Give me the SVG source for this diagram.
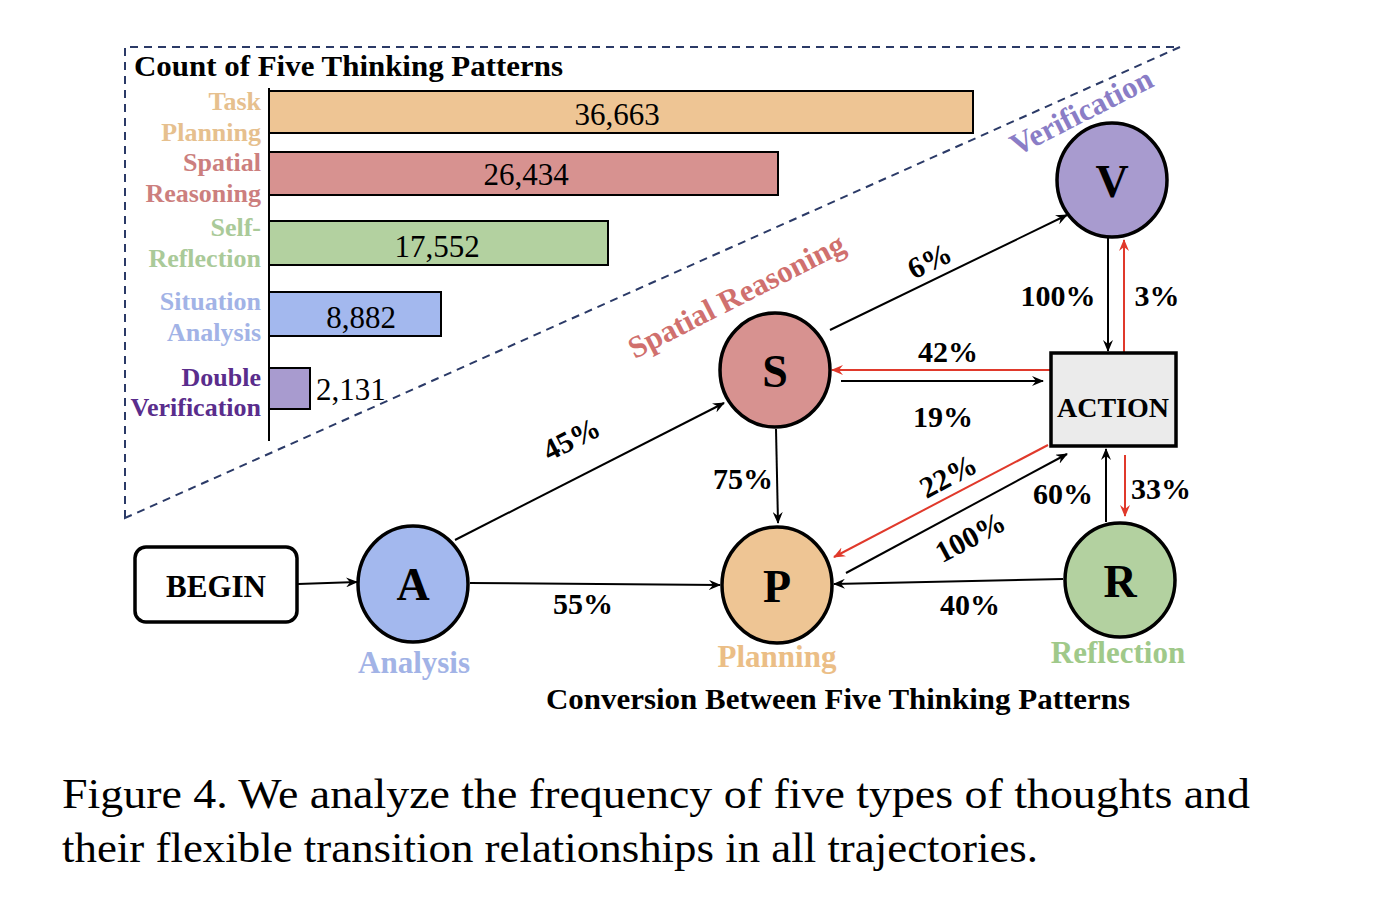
<svg xmlns="http://www.w3.org/2000/svg" width="1400" height="908" viewBox="0 0 1400 908">
<defs>
<style>
text{font-family:"Liberation Serif","Times New Roman",serif}
.b{font-weight:bold}
.lbl{font-weight:bold;font-size:26px;text-anchor:end}
.num{font-size:31px;text-anchor:middle}
.pct{font-weight:bold;font-size:30px;text-anchor:middle}
.node{stroke:#000;stroke-width:3.5}
.let{font-weight:bold;font-size:46px;text-anchor:middle}
.bar{stroke:#000;stroke-width:2}
.ck{stroke:#000;stroke-width:2;fill:none}
.cr{stroke:#E0392B;stroke-width:2;fill:none}
.nm{font-weight:bold;font-size:31px;text-anchor:middle}
</style>
<marker id="ak" viewBox="0 0 12 10" refX="11" refY="5" markerWidth="12" markerHeight="10" markerUnits="userSpaceOnUse" orient="auto"><path d="M0,0 L12,5 L0,10 L4,5 Z" fill="#000"/></marker>
<marker id="ar" viewBox="0 0 12 10" refX="11" refY="5" markerWidth="12" markerHeight="10" markerUnits="userSpaceOnUse" orient="auto"><path d="M0,0 L12,5 L0,10 L4,5 Z" fill="#E0392B"/></marker>
</defs>
<rect width="1400" height="908" fill="#fff"/>

<g id="frame">
<path d="M125,518 L125,47 L1180,47 Z" fill="none" stroke="#2B3A67" stroke-width="2" stroke-dasharray="8,6"/>
</g>

<g id="chart">
<text x="134" y="76" class="b" font-size="29" textLength="429" lengthAdjust="spacingAndGlyphs">Count of Five Thinking Patterns</text>
<line x1="269" y1="88" x2="269" y2="441" stroke="#000" stroke-width="2"/>
<rect class="bar" x="269" y="91" width="704" height="42" fill="#EEC594"/>
<rect class="bar" x="269" y="152" width="509" height="43" fill="#D79290"/>
<rect class="bar" x="269" y="221" width="339" height="44" fill="#B3D1A0"/>
<rect class="bar" x="269" y="292" width="172" height="44" fill="#A3B8EE"/>
<rect class="bar" x="269" y="368" width="41" height="41" fill="#A89BCF"/>
<text class="num" x="617" y="125">36,663</text>
<text class="num" x="526" y="185">26,434</text>
<text class="num" x="437" y="257">17,552</text>
<text class="num" x="361" y="328">8,882</text>
<text x="316" y="400" font-size="31">2,131</text>
<g fill="#E6C08E"><text class="lbl" x="261" y="110">Task</text><text class="lbl" x="261" y="141">Planning</text></g>
<g fill="#CC7F7E"><text class="lbl" x="261" y="171">Spatial</text><text class="lbl" x="261" y="202">Reasoning</text></g>
<g fill="#AACA99"><text class="lbl" x="261" y="236">Self-</text><text class="lbl" x="261" y="267">Reflection</text></g>
<g fill="#A2B3E6"><text class="lbl" x="261" y="310">Situation</text><text class="lbl" x="261" y="341">Analysis</text></g>
<g fill="#5A2D8C"><text class="lbl" x="261" y="386">Double</text><text class="lbl" x="261" y="416">Verification</text></g>
</g>

<g id="connectors">
<line class="ck" x1="298" y1="584" x2="357" y2="582" marker-end="url(#ak)"/>
<line class="ck" x1="470" y1="583" x2="720" y2="585" marker-end="url(#ak)"/>
<line class="ck" x1="455" y1="540" x2="724" y2="403" marker-end="url(#ak)"/>
<line class="ck" x1="830" y1="330" x2="1067" y2="215" marker-end="url(#ak)"/>
<line class="ck" x1="1108" y1="238" x2="1108" y2="351" marker-end="url(#ak)"/>
<line class="cr" x1="1124" y1="352" x2="1124" y2="240" marker-end="url(#ar)"/>
<line class="cr" x1="1050" y1="370" x2="832" y2="370" marker-end="url(#ar)"/>
<line class="ck" x1="841" y1="381" x2="1043" y2="381" marker-end="url(#ak)"/>
<line class="ck" x1="776" y1="429" x2="778" y2="523" marker-end="url(#ak)"/>
<line class="cr" x1="1048" y1="445" x2="834" y2="557" marker-end="url(#ar)"/>
<line class="ck" x1="846" y1="573" x2="1067" y2="454" marker-end="url(#ak)"/>
<line class="ck" x1="1106" y1="522" x2="1106" y2="449" marker-end="url(#ak)"/>
<line class="cr" x1="1125" y1="455" x2="1125" y2="516" marker-end="url(#ar)"/>
<line class="ck" x1="1063" y1="579" x2="834" y2="584" marker-end="url(#ak)"/>
<text class="pct" x="583" y="614">55%</text>
<text class="pct" transform="translate(576,448) rotate(-27)">45%</text>
<text class="pct" transform="translate(934,270) rotate(-26)">6%</text>
<text class="pct" x="1058" y="306">100%</text>
<text class="pct" x="1157" y="306">3%</text>
<text class="pct" x="948" y="362">42%</text>
<text class="pct" x="943" y="427">19%</text>
<text class="pct" x="743" y="489">75%</text>
<text class="pct" transform="translate(953,485) rotate(-28)">22%</text>
<text class="pct" transform="translate(975,546) rotate(-28)">100%</text>
<text class="pct" x="1063" y="504">60%</text>
<text class="pct" x="1161" y="499">33%</text>
<text class="pct" x="970" y="615">40%</text>
</g>

<g id="begin">
<rect x="135" y="547" width="162" height="75" rx="11" fill="#fff" stroke="#000" stroke-width="3.5"/>
<text class="b" x="216" y="597" font-size="31" text-anchor="middle">BEGIN</text>
</g>
<g id="nodeA">
<ellipse class="node" cx="413" cy="584" rx="55" ry="58" fill="#A3B8EE"/>
<text class="let" x="413" y="600">A</text>
<text class="nm" x="414" y="673" fill="#A2B3E6">Analysis</text>
</g>
<g id="nodeS">
<ellipse class="node" cx="775" cy="370" rx="55" ry="57" fill="#D79290"/>
<text class="let" x="775" y="387">S</text>
<text class="nm" fill="#D0706E" transform="translate(741,305) rotate(-27)">Spatial Reasoning</text>
</g>
<g id="nodeP">
<ellipse class="node" cx="777" cy="585" rx="55" ry="58" fill="#EEC594"/>
<text class="let" x="777" y="602">P</text>
<text class="nm" x="777" y="667" fill="#EBBE86">Planning</text>
</g>
<g id="nodeV">
<ellipse class="node" cx="1112" cy="180" rx="55" ry="57" fill="#A89BCF"/>
<text class="let" x="1112" y="197">V</text>
<text class="nm" fill="#8A7DC6" transform="translate(1086,121) rotate(-27)">Verification</text>
</g>
<g id="nodeR">
<ellipse class="node" cx="1120" cy="580" rx="55" ry="57" fill="#B3D1A0"/>
<text class="let" x="1120" y="597">R</text>
<text class="nm" x="1118" y="663" fill="#A0C98A">Reflection</text>
</g>
<g id="action">
<rect x="1051" y="353" width="125" height="93" fill="#EBEBEB" stroke="#000" stroke-width="3.5"/>
<text class="b" x="1113" y="417" font-size="28" text-anchor="middle" textLength="112" lengthAdjust="spacingAndGlyphs">ACTION</text>
</g>

<g id="captions">
<text class="b" x="546" y="709" font-size="29" textLength="584" lengthAdjust="spacingAndGlyphs">Conversion Between Five Thinking Patterns</text>
<text x="62" y="808" font-size="42" textLength="1188" lengthAdjust="spacingAndGlyphs">Figure 4.  We analyze the frequency of five types of thoughts and</text>
<text x="62" y="862" font-size="42" textLength="976" lengthAdjust="spacingAndGlyphs">their flexible transition relationships in all trajectories.</text>
</g>
</svg>
